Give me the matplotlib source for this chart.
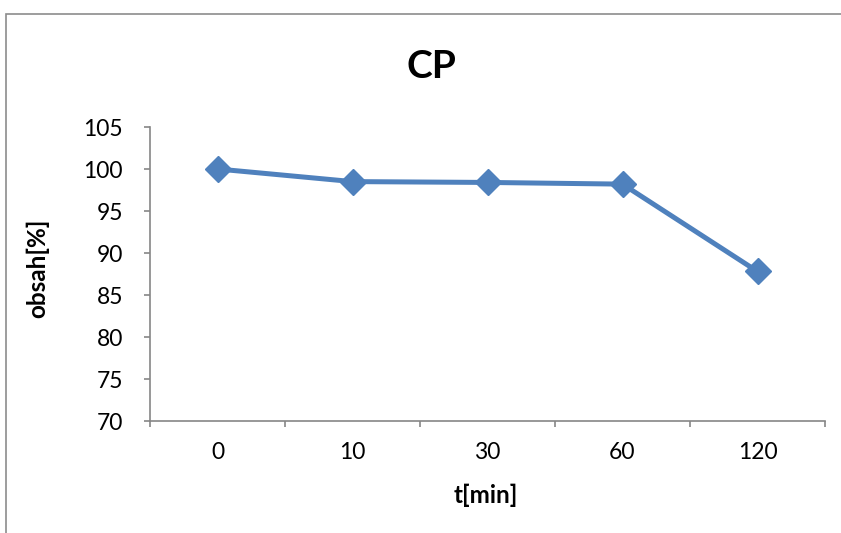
import matplotlib
matplotlib.use("Agg")
import matplotlib.pyplot as plt
from matplotlib.patches import Rectangle

categories = ["0", "10", "30", "60", "120"]
values = [100.0, 98.5, 98.4, 98.2, 87.8]
yticks = [70, 75, 80, 85, 90, 95, 100, 105]

plt.rcParams['font.family'] = ['Lato', 'DejaVu Sans']

W, H = 841, 533
fig = plt.figure(figsize=(W / 100, H / 100), dpi=100)
ax = fig.add_axes([150 / W, (H - 421) / H, (825 - 150) / W, (421 - 127) / H])

x = list(range(len(categories)))
ax.plot(x, values, color='#4F81BD', linewidth=3.6, marker='D', markersize=13,
        markerfacecolor='#4F81BD', markeredgecolor='#4F81BD', zorder=3,
        solid_joinstyle='round')

ax.set_xlim(-0.5, len(categories) - 0.5)
ax.set_ylim(70, 105)
ax.set_yticks(yticks)
ax.set_yticklabels([str(v) for v in yticks])
ax.set_xticks(x)
ax.set_xticklabels(categories)
ax.tick_params(axis='x', length=0, pad=15, labelsize=16.5)
ax.set_xticks([i - 0.5 for i in range(len(categories) + 1)], minor=True)
ax.tick_params(axis='x', which='minor', length=4.5, width=1.2, color='#868686', direction='out')
ax.tick_params(axis='y', length=4.5, width=1.2, color='#868686', direction='out', labelsize=16.5, pad=15)

for s in ['top', 'right']:
    ax.spines[s].set_visible(False)
for s in ['left', 'bottom']:
    ax.spines[s].set_color('#868686')
    ax.spines[s].set_linewidth(1.2)

fig.text(431 / W, 1 - 78 / H, "CP", ha='center', va='baseline', fontsize=28, fontweight='bold')
fig.text(486 / W, 1 - 503 / H, "t[min]", ha='center', va='baseline', fontsize=17.5, fontweight='bold')
fig.text(38 / W, 1 - 268 / H, "obsah[%]", ha='center', va='center', rotation=90, fontsize=17.5, fontweight='bold')

fig.patches.append(Rectangle((6 / W, -0.05), 1.0, (H - 14) / H + 0.05, transform=fig.transFigure,
                             fill=False, edgecolor='#8C8C8C', linewidth=1.2))

fig.savefig("out.png", dpi=100)
